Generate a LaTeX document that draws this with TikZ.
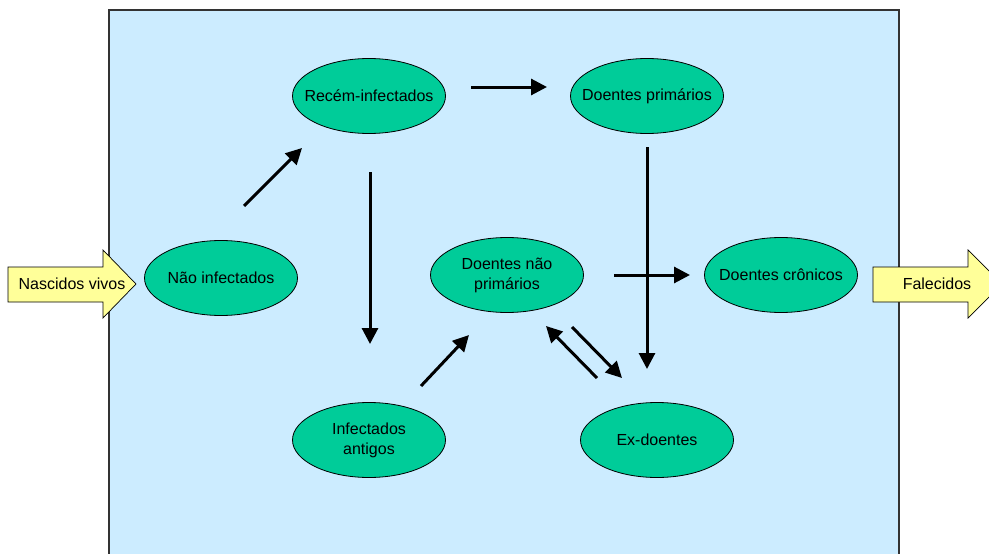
\documentclass[tikz,border=0pt]{standalone}
\usepackage{fontspec}
\setmainfont{Liberation Sans}
\usetikzlibrary{arrows.meta,shapes.geometric}
\definecolor{bgblue}{HTML}{CCECFF}
\definecolor{ellgreen}{HTML}{00CC99}
\definecolor{arrowyellow}{HTML}{FFFF99}
\definecolor{boxborder}{HTML}{333333}
\tikzset{
  state/.style={ellipse, draw=black, line width=0.8pt, fill=ellgreen,
    minimum width=153pt, minimum height=75pt, inner sep=0pt},
  statetext/.style={align=center, inner sep=0pt, font=\fontsize{16}{20}\selectfont},
  flow/.style={line width=3pt, -{Triangle[length=16pt,width=16pt]}},
  blockarrow/.style={draw=black, line width=0.7pt, fill=arrowyellow},
  label/.style={font=\fontsize{16}{20}\selectfont, inner sep=0pt}
}
\begin{document}
\begin{tikzpicture}[x=1pt,y=-1pt]
\useasboundingbox (0,0) rectangle (989,554);
\clip (0,0) rectangle (989,554);
% background box
\draw[boxborder, line width=2pt, fill=bgblue] (109,10) rectangle (899,570);

% block arrows
\draw[blockarrow] (8,267) -- (103,267) -- (103,250) -- (136,284) -- (103,318) -- (103,302) -- (8,302) -- cycle;
\node[label] (nv) at (72,284) {Nascidos vivos};
\draw[blockarrow] (873,267) -- (968,267) -- (968,250) -- (1002,284) -- (968,318) -- (968,302) -- (873,302) -- cycle;
\node[label] (fal) at (937,284) {Falecidos};

% states
\node[state] (ri) at (369,96) {};
\node[statetext] (riT) at (ri.center) {Recém-infectados};
\node[state] (dp) at (647,96) {};
\node[statetext] (dpT) at (dp.center) {Doentes primários};
\node[state] (ni) at (221,278) {};
\node[statetext] (niT) at (ni.center) {Não infectados};
\node[state] (dnp) at (507,275) {};
\node[statetext] (dnpT) at (dnp.center) {Doentes não\\primários};
\node[state] (dc) at (781,275) {};
\node[statetext] (dcT) at (dc.center) {Doentes crônicos};
\node[state] (ia) at (369,440) {};
\node[statetext] (iaT) at (ia.center) {Infectados\\antigos};
\node[state] (ed) at (657,440) {};
\node[statetext] (edT) at (ed.center) {Ex-doentes};

% arrow endpoints
\coordinate (a1s) at (244,206); \coordinate (a1e) at (302,148);
\coordinate (a2s) at (471,87);  \coordinate (a2e) at (547,87);
\coordinate (a3s) at (370,172); \coordinate (a3e) at (370,344);
\coordinate (a4s) at (421,386); \coordinate (a4e) at (469,335);
\coordinate (a5s) at (647,147); \coordinate (a5e) at (647,369);
\coordinate (a6s) at (614,275); \coordinate (a6e) at (690,275);
\coordinate (a7s) at (597,378); \coordinate (a7e) at (546,326);
\coordinate (a8s) at (572,327); \coordinate (a8e) at (622,378);

\draw[flow] (a1s) -- (a1e);
\draw[flow] (a2s) -- (a2e);
\draw[flow] (a3s) -- (a3e);
\draw[flow] (a4s) -- (a4e);
\draw[flow] (a5s) -- (a5e);
\draw[flow] (a6s) -- (a6e);
\draw[flow] (a7s) -- (a7e);
\draw[flow] (a8s) -- (a8e);
\end{tikzpicture}
\end{document}
